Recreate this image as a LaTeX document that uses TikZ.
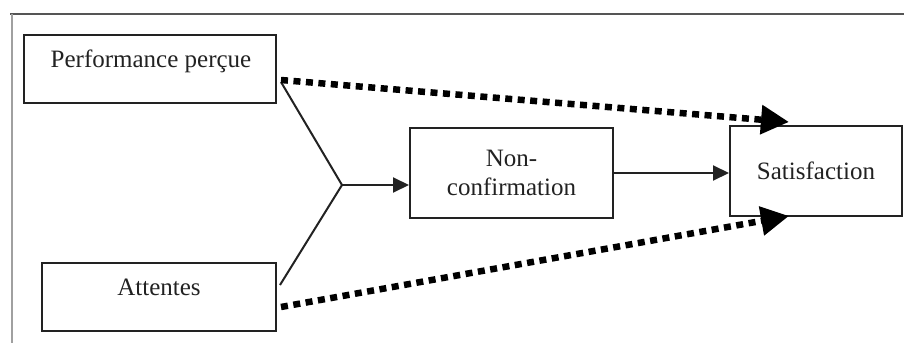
\documentclass[tikz,border=0pt]{standalone}
\usepackage{fontspec}
\setmainfont{Liberation Serif}
\usetikzlibrary{arrows.meta}
\definecolor{ink}{HTML}{222222}
\definecolor{frameline}{HTML}{555555}
\definecolor{sideline}{HTML}{A0A0A0}
\tikzset{
  box/.style={draw=ink, line width=2pt, rectangle, inner sep=0pt, text=ink,
    font=\fontsize{25}{29}\selectfont, align=center},
  lbl/.style={inner sep=0pt, anchor=base, text=ink, font=\fontsize{25}{29}\selectfont},
  solidarrow/.style={draw=ink, line width=2pt, -{Triangle[length=16pt,width=15pt]}},
  solidline/.style={draw=ink, line width=2pt},
  dotarrow/.style={draw=black, line width=6.5pt, dash pattern=on 7pt off 5.5pt,
    -{Triangle[length=28pt,width=28pt]}}
}
\begin{document}
\begin{tikzpicture}[x=1pt,y=-1pt]
\useasboundingbox (0,0) rectangle (906,343);
% frame
\draw[frameline, line width=2.5pt] (10,14) -- (904,14);
\draw[sideline, line width=1.5pt] (12,14) -- (12,343);
% boxes
\node[box, minimum width=252pt, minimum height=68pt] (perf) at (150,69) {};
\node[lbl] (perftext) at (151,67) {Performance perçue};
\node[box, minimum width=234pt, minimum height=68pt] (att) at (159,297) {};
\node[lbl] (atttext) at (159,295) {Attentes};
\node[box, minimum width=203pt, minimum height=90pt] (nonc) at (511.5,173) {Non-\\confirmation};
\node[box, minimum width=172pt, minimum height=90pt] (sat) at (816,171) {Satisfaction};
% junction
\coordinate (j) at (342,185);
\coordinate (ps) at ([xshift=4pt,yshift=-13pt]perf.east);
\coordinate (as) at ([xshift=3pt,yshift=12pt]att.east);
\draw[solidline] (ps) -- (j) -- (as);
\draw[solidarrow] (j) -- (j -| nonc.west);
\draw[solidarrow] (nonc.east) -- (nonc.east -| sat.west);
% dotted arrows
\coordinate (pd) at ([xshift=4pt,yshift=-11pt]perf.east);
\coordinate (ad) at ([xshift=4pt,yshift=-10pt]att.east);
\coordinate (st) at ([xshift=60pt,yshift=3pt]sat.north west);
\coordinate (sb) at ([xshift=60pt,yshift=1pt]sat.south west);
\draw[dotarrow] (pd) -- (st);
\draw[dotarrow] (ad) -- (sb);
\end{tikzpicture}
\end{document}
